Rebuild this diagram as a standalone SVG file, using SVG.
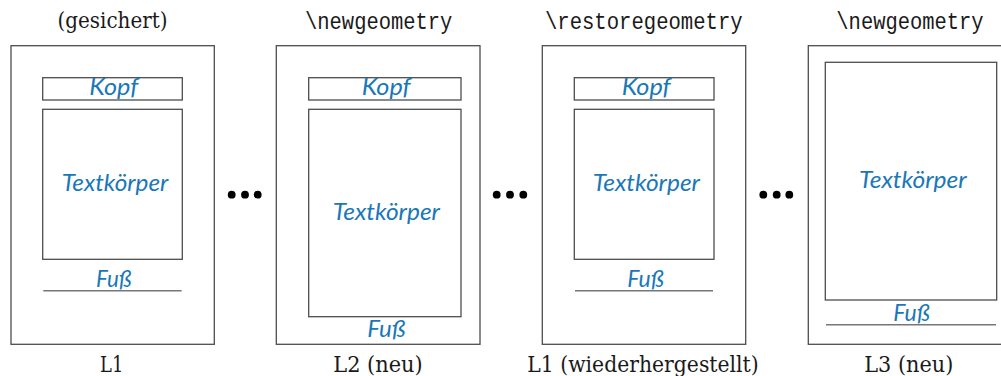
<svg xmlns="http://www.w3.org/2000/svg" width="1001" height="376" viewBox="0 0 1001 376">
<style>
.page{fill:#fff;stroke:#4d4d4d;stroke-width:1.3}
.box{fill:none;stroke:#4d4d4d;stroke-width:1.3}
.foot{stroke:#777;stroke-width:1.6}
.lbl{font-family:Lato,"Open Sans",sans-serif;font-style:italic;font-size:22.5px;fill:#1a78b8;text-anchor:middle}
.ser{font-family:"DejaVu Serif","Liberation Serif",serif;font-size:22px;fill:#1a1a1a;text-anchor:middle}
.mono{font-family:"Liberation Mono","DejaVu Sans Mono",monospace;font-size:23px;fill:#1a1a1a;text-anchor:middle}
.dot{fill:#000}
</style>
<rect width="1001" height="376" fill="#fff"/>
<g id="page1">
<text class="ser" x="112.5" y="28" textLength="110" lengthAdjust="spacingAndGlyphs">(gesichert)</text>
<rect class="page" x="11" y="45.7" width="203.3" height="298.6"/>
<rect class="box" x="42.7" y="77.7" width="139.6" height="22.3"/>
<text class="lbl" x="113.8" y="95" textLength="49" lengthAdjust="spacingAndGlyphs">Kopf</text>
<rect class="box" x="42.7" y="109.3" width="139.6" height="150"/>
<text class="lbl" x="115" y="190.7" textLength="106.7" lengthAdjust="spacingAndGlyphs">Textkörper</text>
<line class="foot" x1="43.3" y1="290.7" x2="181.7" y2="290.7"/>
<text class="lbl" x="113.8" y="287.3" textLength="35.7" lengthAdjust="spacingAndGlyphs">Fuß</text>
<text class="ser" x="111.7" y="372" textLength="23.3" lengthAdjust="spacingAndGlyphs">L1</text>
</g>
<g id="page2">
<text class="mono" x="378.7" y="29" textLength="147.3" lengthAdjust="spacingAndGlyphs">\newgeometry</text>
<rect class="page" x="276.3" y="45.7" width="203.7" height="298.6"/>
<rect class="box" x="308.7" y="77.7" width="152.3" height="22.3"/>
<text class="lbl" x="386.2" y="95" textLength="49" lengthAdjust="spacingAndGlyphs">Kopf</text>
<rect class="box" x="308.7" y="109.3" width="152.3" height="207.4"/>
<text class="lbl" x="386.3" y="220" textLength="107.3" lengthAdjust="spacingAndGlyphs">Textkörper</text>
<text class="lbl" x="386.5" y="337.3" textLength="38.4" lengthAdjust="spacingAndGlyphs">Fuß</text>
<text class="ser" x="378" y="372" textLength="89.4" lengthAdjust="spacingAndGlyphs">L2 (neu)</text>
</g>
<g id="page3">
<text class="mono" x="643.8" y="29" textLength="197.7" lengthAdjust="spacingAndGlyphs">\restoregeometry</text>
<rect class="page" x="542.3" y="45.7" width="203.4" height="298.6"/>
<rect class="box" x="574.3" y="77.7" width="139.7" height="22.3"/>
<text class="lbl" x="646.2" y="95" textLength="49" lengthAdjust="spacingAndGlyphs">Kopf</text>
<rect class="box" x="574.3" y="109.3" width="139.7" height="150"/>
<text class="lbl" x="646.3" y="191" textLength="107.3" lengthAdjust="spacingAndGlyphs">Textkörper</text>
<line class="foot" x1="575" y1="290.7" x2="713" y2="290.7"/>
<text class="lbl" x="645.7" y="287.3" textLength="36.7" lengthAdjust="spacingAndGlyphs">Fuß</text>
<text class="ser" x="643" y="372" textLength="231.4" lengthAdjust="spacingAndGlyphs">L1 (wiederhergestellt)</text>
</g>
<g id="page4">
<text class="mono" x="910" y="29" textLength="147.3" lengthAdjust="spacingAndGlyphs">\newgeometry</text>
<rect class="page" x="808.3" y="45.7" width="203.4" height="298.6"/>
<rect class="box" x="825.3" y="62.3" width="171.4" height="237.7"/>
<text class="lbl" x="912.8" y="188.3" textLength="107.7" lengthAdjust="spacingAndGlyphs">Textkörper</text>
<line class="foot" x1="826" y1="324.7" x2="996" y2="324.7"/>
<text class="lbl" x="911.7" y="320.7" textLength="36.7" lengthAdjust="spacingAndGlyphs">Fuß</text>
<text class="ser" x="908.8" y="372" textLength="89" lengthAdjust="spacingAndGlyphs">L3 (neu)</text>
</g>
<g id="connectors">
<g id="dots1"><circle class="dot" cx="231.7" cy="194.7" r="3.9"/><circle class="dot" cx="245" cy="194.7" r="3.9"/><circle class="dot" cx="257.7" cy="194.7" r="3.9"/></g>
<g id="dots2"><circle class="dot" cx="496.7" cy="194.7" r="3.9"/><circle class="dot" cx="510" cy="194.7" r="3.9"/><circle class="dot" cx="523.3" cy="194.7" r="3.9"/></g>
<g id="dots3"><circle class="dot" cx="763.3" cy="194.7" r="3.9"/><circle class="dot" cx="776.7" cy="194.7" r="3.9"/><circle class="dot" cx="789.3" cy="194.7" r="3.9"/></g>
</g>
</svg>
